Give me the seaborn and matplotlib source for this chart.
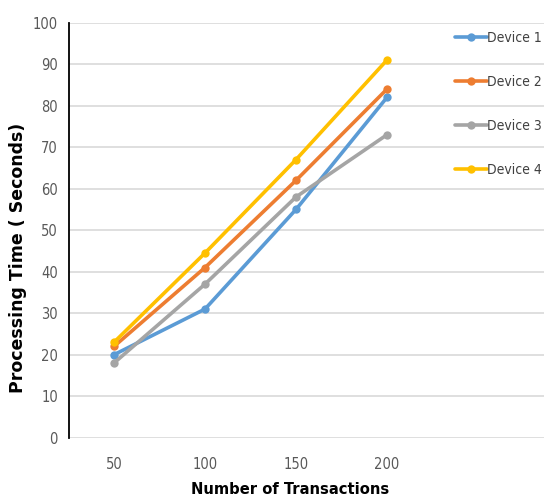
import pandas as pd
import matplotlib.pyplot as plt
import seaborn as sns

# Chart values
transactions = [50, 100, 150, 200]
device_1 = [20, 31, 55, 82]
device_2 = [22, 41, 62, 84]
device_3 = [18, 37, 58, 73]
device_4 = [23, 44.5, 67, 91]
devices = ["Device 1", "Device 2", "Device 3", "Device 4"]
colors = ["#5B9BD5", "#ED7D31", "#A5A5A5", "#FFC000"]

rows = []
for name, vals in zip(devices, [device_1, device_2, device_3, device_4]):
    for x, y in zip(transactions, vals):
        rows.append({"Transactions": x, "Time": y, "Device": name})
data = pd.DataFrame(rows)

sns.set_theme(style="white")
plt.rcParams["font.family"] = ["DejaVu Sans"]
plt.rcParams["font.stretch"] = "condensed"

fig = plt.figure(figsize=(5.44, 5.0), dpi=100)
ax = fig.add_axes([0.127, 0.1246, 0.873, 0.83])

sns.lineplot(data=data, x="Transactions", y="Time", hue="Device",
             palette=colors, marker="o", markersize=6, markeredgewidth=0,
             linewidth=2.6, ax=ax)

ax.set_xlim(25.3, 286.3)
ax.set_ylim(0, 100)
ax.set_xticks(transactions)
ax.set_yticks(range(0, 101, 10))
ax.yaxis.grid(True, color="#d9d9d9", linewidth=1.2)
ax.set_axisbelow(True)
for side in ["top", "right", "bottom"]:
    ax.spines[side].set_visible(False)
ax.spines["left"].set_color("black")
ax.spines["left"].set_linewidth(1.3)
ax.tick_params(axis="both", length=0, labelsize=10.5, colors="#595959", pad=8)
ax.tick_params(axis="x", pad=14)

ax.set_xlabel("")
ax.set_ylabel("")
fig.text(290 / 544, 1 - 489 / 500, "Number of Transactions", ha="center",
         va="center", fontsize=11.8, fontweight="bold", color="black")
fig.text(18 / 544, 1 - 258 / 500, "Processing Time ( Seconds)", ha="center",
         va="center", rotation=90, fontsize=12.5, fontweight="bold",
         stretch="normal", color="black")

leg = ax.legend(loc="upper left", bbox_to_anchor=(449 / 544, 1 - 25 / 500),
                bbox_transform=fig.transFigure, frameon=False, fontsize=10,
                labelspacing=2.17, handlelength=2.3, handletextpad=0.05,
                borderaxespad=0)
for t in leg.get_texts():
    t.set_color("#404040")

fig.savefig("out.png", dpi=100)
